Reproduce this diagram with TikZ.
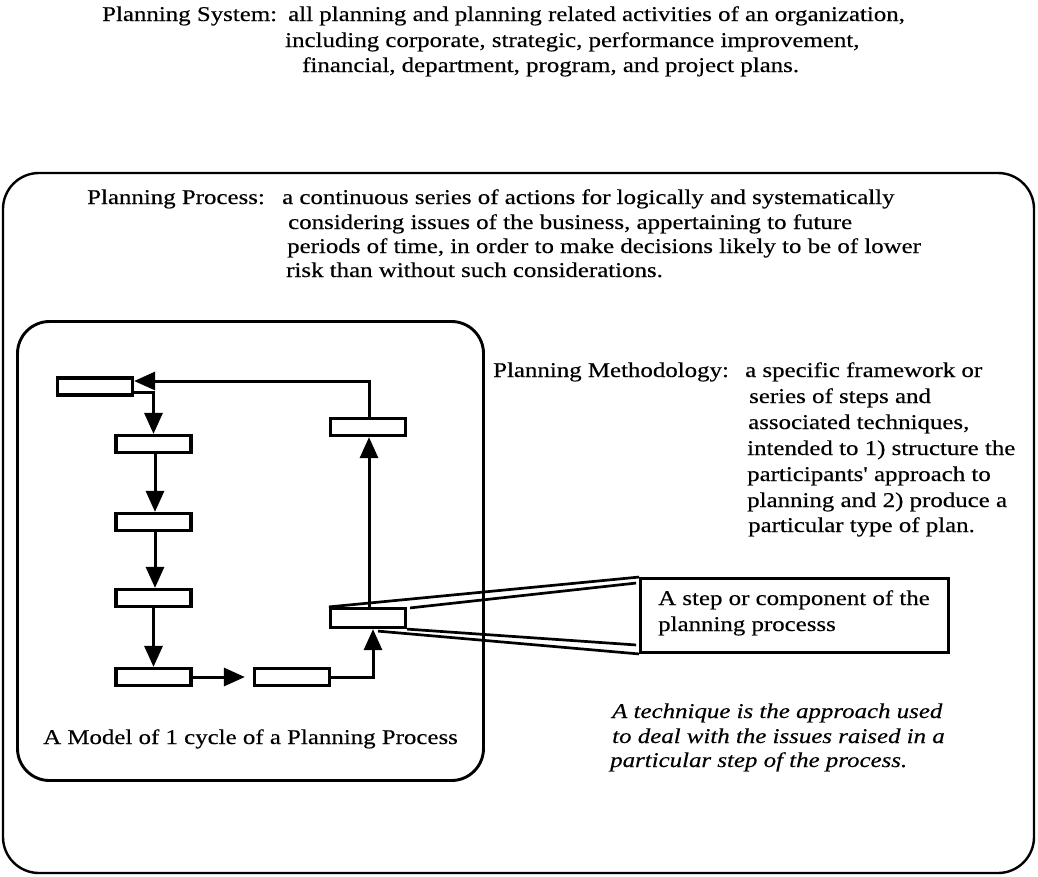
\documentclass[tikz,border=0pt]{standalone}
\usepackage{fontspec}
\setmainfont{Liberation Serif}[FakeStretch=1.185, FakeBold=0.35, Ligatures=TeXOff]
\usetikzlibrary{arrows.meta,calc}

\tikzset{
  stepbox/.style={draw, line width=3.2pt, minimum width=75pt, minimum height=17pt, inner sep=0pt},
  frame/.style={draw, line width=2.9pt, rounded corners=32pt, inner sep=0pt},
  flow/.style={line width=3pt, -{Triangle[length=21pt,width=18pt]}},
  ray/.style={line width=2.7pt},
  txt/.style={anchor=base west, inner sep=0pt, font=\fontsize{21}{26}\selectfont},
  itxt/.style={txt, font=\fontsize{21}{26}\selectfont\itshape},
}

\begin{document}
\begin{tikzpicture}[x=1pt, y=-1pt]
\useasboundingbox (0,0) rectangle (1038,876);

% outer frame: the planning process
\node[frame, line width=2.4pt, rounded corners=36pt, minimum width=1031pt, minimum height=700pt] (process) at (518.5,523) {};
% inner frame: one cycle of the process
\node[frame, minimum width=466pt, minimum height=459pt] (cycle) at (250.5,551) {};

% planning system definition
\node[txt] (sys1) at (102,21) {Planning System:};
\node[txt] (sys2) at (288,21) {all planning and planning related activities of an organization,};
\node[txt] (sys3) at (285,47) {including corporate, strategic, performance improvement,};
\node[txt] (sys4) at (302,72) {financial, department, program, and project plans.};

% planning process definition
\node[txt] (pp1) at (87,204) {Planning Process:};
\node[txt] (pp2) at (282,204) {a continuous series of actions for logically and systematically};
\node[txt] (pp3) at (288,229) {considering issues of the business, appertaining to future};
\node[txt] (pp4) at (287,253) {periods of time, in order to make decisions likely to be of lower};
\node[txt] (pp5) at (286,277) {risk than without such considerations.};

% planning methodology definition
\node[txt] (pm1) at (493,377) {Planning Methodology:};
\node[txt] (pm2) at (745,377) {a specific framework or};
\node[txt] (pm3) at (749,403) {series of steps and};
\node[txt] (pm4) at (748,429) {associated techniques,};
\node[txt] (pm5) at (747,455) {intended to 1) structure the};
\node[txt] (pm6) at (747,481) {participants' approach to};
\node[txt] (pm7) at (747,507) {planning and 2) produce a};
\node[txt] (pm8) at (748,532) {particular type of plan.};

% the steps of one cycle
\node[stepbox] (b1) at (95,386.5) {};
\node[stepbox] (b2) at (153.5,444) {};
\node[stepbox] (b3) at (153.5,522) {};
\node[stepbox] (b4) at (153.5,598) {};
\node[stepbox] (b5) at (153.5,677) {};
\node[stepbox] (b6) at (292,677) {};
\node[stepbox, minimum height=19pt] (b7) at (368,618) {};
\node[stepbox] (b8) at (368,427) {};

\draw[flow] ([yshift=-5.5pt]b1.east) -| (b2.north);
\draw[flow] ([xshift=1.5pt]b2.south) -- ([xshift=1.5pt]b3.north);
\draw[flow] ([xshift=1.5pt]b3.south) -- ([xshift=1.5pt]b4.north);
\draw[flow] (b4.south) -- (b5.north);
\draw[flow, shorten >=8pt] (b5.east) -- (b6.west);
\draw[flow] (b6.east) -| ([xshift=5pt]b7.south);
\draw[flow] ([xshift=1pt]b7.north) -- ([xshift=1pt]b8.south);
\draw[flow] ([xshift=1pt]b8.north) |- ([yshift=5.5pt]b1.east);

\node[txt] (model) at (43,744) {A Model of 1 cycle of a Planning Process};

% enlarged step
\node[draw, line width=2.9pt, minimum width=308pt, minimum height=74pt, inner sep=0pt] (call) at (794.5,615.5) {};
\node[txt] (c1) at (658,605) {A step or component of the};
\node[txt] (c2) at (658,631) {planning processs};

\draw[ray] (b7.north west) -- (call.north west);
\draw[ray] ($(b7.north east)+(3,1)$) -- ($(call.north west)+(-3,6)$);
\draw[ray] ($(b7.south)+(10,2)$) -- (call.south west);
\draw[ray] (b7.south east) -- ($(call.south west)+(-3,-9)$);

% technique note
\node[itxt] (t1) at (612,718) {A technique is the approach used};
\node[itxt] (t2) at (612,743) {to deal with the issues raised in a};
\node[itxt] (t3) at (610,767) {particular step of the process.};
\end{tikzpicture}
\end{document}
